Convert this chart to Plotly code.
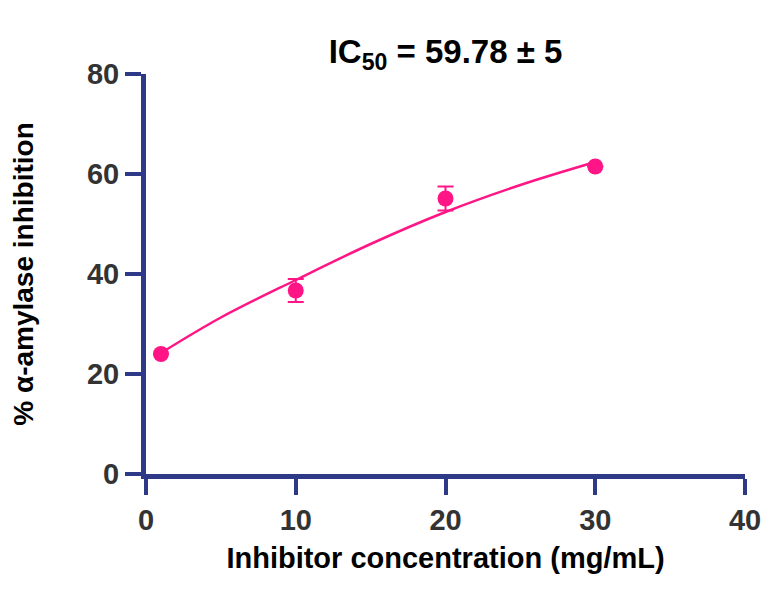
import plotly.graph_objects as go

# measured points (mean +/- sd)
conc = [1, 10, 20, 30]
inhibition = [24.0, 36.7, 55.1, 61.5]
inhibition_sd = [0.0, 2.3, 2.4, 0.0]

# fitted curve
fit_conc = [1, 5, 10, 15, 20, 25, 30]
fit_inhibition = [24.2, 31.3, 38.8, 46.0, 52.4, 57.8, 62.4]

pink = '#FF1585'
navy = '#2E3A87'
font_family = 'Liberation Sans, Arial, sans-serif'

fig = go.Figure()

fig.add_trace(go.Scatter(
    x=fit_conc, y=fit_inhibition, mode='lines',
    line=dict(color=pink, width=2.5, shape='spline'),
    hoverinfo='skip'
))

fig.add_trace(go.Scatter(
    x=conc, y=inhibition, mode='markers',
    marker=dict(color=pink, size=16),
    error_y=dict(type='data', array=inhibition_sd, color=pink, thickness=2, width=8)
))

axis_common = dict(
    showline=True, linecolor=navy, linewidth=5,
    ticks='outside', tickcolor=navy, tickwidth=4, ticklen=16,
    showgrid=False, zeroline=False, automargin=False,
    tickfont=dict(family=font_family, size=29, color='#333333', weight='bold'),
)

# the page body adds an 8px margin, so the figure is 8px smaller
fig.update_layout(
    width=765, height=581,
    margin=dict(l=138, r=28, t=66, b=115),
    plot_bgcolor='white', paper_bgcolor='white',
    showlegend=False,
    font=dict(family=font_family, color='black'),
    title=dict(
        text='<b>IC<sub>50</sub> = 59.78 ± 5</b>',
        x=0.5, xref='paper', xanchor='center', y=0.925, yanchor='middle',
        font=dict(size=33, color='black')
    ),
    xaxis=dict(
        range=[0, 40], tickvals=[0, 10, 20, 30, 40],
        title=dict(text='<b>Inhibitor concentration (mg/mL)</b>', font=dict(size=29), standoff=14),
        **axis_common
    ),
    yaxis=dict(
        range=[0, 80], tickvals=[0, 20, 40, 60, 80],
        title=dict(text='<b>% α-amylase inhibition</b>', font=dict(size=28), standoff=50),
        **axis_common
    ),
)

fig.write_html('out.html')
